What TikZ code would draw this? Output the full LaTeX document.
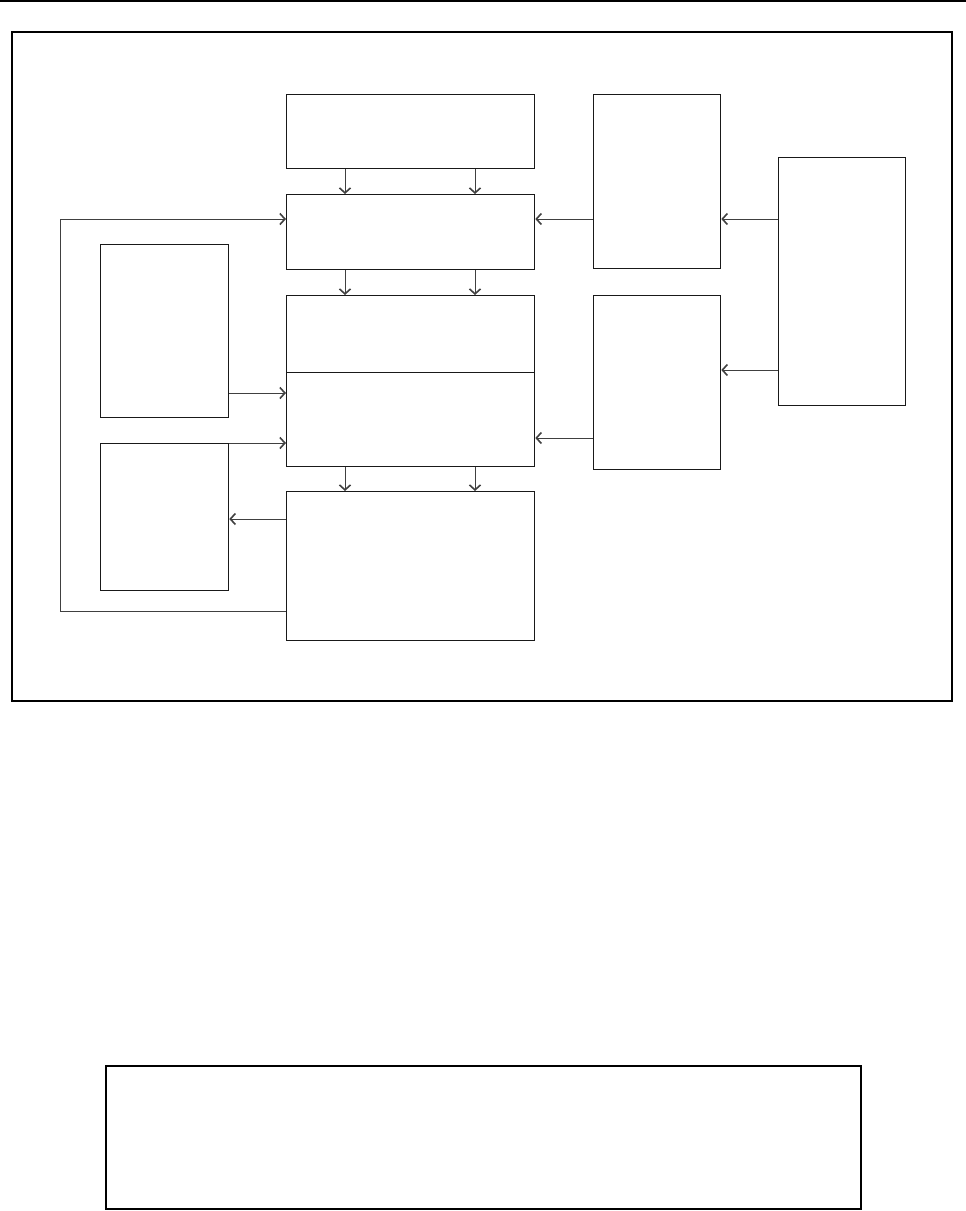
\documentclass[tikz,border=0pt]{standalone}
\usetikzlibrary{arrows.meta, positioning}

\begin{document}
\begin{tikzpicture}[
        x=1pt, y=-1pt,
        node distance=26pt and 26pt,
        box/.style={
            rectangle, draw=black!90, line width=1.3pt, inner sep=0pt,
            anchor=north west
        },
        midBlock/.style={box, minimum width=248pt},
        sideBlock/.style={box, minimum width=128pt},
        arrow/.style={
            line width=1pt, draw=black!75,
            -{Straight Barb[length=5pt, width=11pt, line width=1.6pt]}
        },
        wire/.style={line width=1pt, draw=black!75}
    ]
        \useasboundingbox (0,0) rectangle (966,1211);

        % Rule and frames
        \draw[line width=1.8pt] (0,1) -- (966,1);
        \draw[line width=1.3pt] (12,32) rectangle (952,701);
        \draw[line width=1.6pt] (106,1066) rectangle (861,1209);

        % Centre column
        \node (top) [midBlock, minimum height=74pt] at (286,94) {};
        \node (ctrl) [midBlock, minimum height=75pt] at (286,194) {};
        \node (coreA) [midBlock, minimum height=77pt] at (286,295) {};
        \node (coreB) [midBlock, minimum height=94pt] at (286,372) {};
        \node (out) [midBlock, minimum height=149pt] at (286,491) {};

        % Side columns
        \node (leftA) [sideBlock, minimum height=173pt] at (100,244) {};
        \node (leftB) [sideBlock, minimum height=147pt] at (100,443) {};
        \node (rightA) [sideBlock, minimum width=127pt, minimum height=174pt] at (593,94) {};
        \node (rightB) [sideBlock, minimum width=127pt, minimum height=174pt] at (593,295) {};
        \node (src) [sideBlock, minimum width=127pt, minimum height=248pt] at (778,157) {};

        % Arrows down the centre
        \foreach \px in {345,475} {
            \draw [arrow] (top.south -| \px,0) -- (ctrl.north -| \px,0);
            \draw [arrow] (ctrl.south -| \px,0) -- (coreA.north -| \px,0);
            \draw [arrow] (coreB.south -| \px,0) -- (out.north -| \px,0);
        }

        % Arrows from the right
        \draw [arrow] (src.west |- 0,219) -- (rightA.east |- 0,219);
        \draw [arrow] (src.west |- 0,370) -- (rightB.east |- 0,370);
        \draw [arrow] (rightA.west |- 0,219) -- (ctrl.east |- 0,219);
        \draw [arrow] (rightB.west |- 0,438) -- (coreB.east |- 0,438);

        % Arrows on the left
        \draw [arrow] (leftA.east |- 0,393) -- (coreB.west |- 0,393);
        \draw [arrow] (leftB.north east) -- (coreB.west |- leftB.north east);
        \draw [arrow] (out.west |- 0,519) -- (leftB.east |- 0,519);

        % Feedback loop
        \coordinate (loop) at (60,611);
        \draw [wire] (out.west |- loop) -- (loop) -- (loop |- 0,219);
        \draw [arrow] (loop |- 0,219) -- (ctrl.west |- 0,219);
    \end{tikzpicture}
\end{document}
